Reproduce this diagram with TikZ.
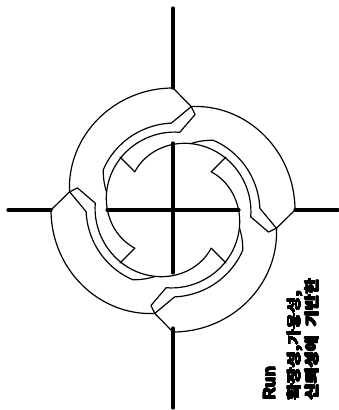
\documentclass[tikz,border=0pt]{standalone}
\usepackage{fontspec}
\usepackage{contour}
\contournumber{16}
\setmainfont{Liberation Sans}
\newfontfamily\kofont{Noto Sans CJK KR}
\begin{document}
\begin{tikzpicture}[x=1pt,y=1pt,line join=round,line cap=round]
\useasboundingbox (-173,-200) rectangle (166,210);
\tikzset{thinl/.style={line width=1.2pt},
  axisl/.style={line width=3.2pt},
  lbl/.style={anchor=west,inner sep=0pt,outer sep=0pt}}
% axes
\coordinate (c) at (0,0);
\coordinate (at) at (0,122); \coordinate (ate) at (0,202);
\coordinate (ar) at (122,0); \coordinate (are) at (165,0);
\coordinate (ab) at (0,-118); \coordinate (abe) at (0,-198);
\coordinate (al) at (-122,0); \coordinate (ale) at (-165,0);
\draw[axisl] (at) -- (ate);
\draw[axisl] (ar) -- (are);
\draw[axisl] (ab) -- (abe);
\draw[axisl] (al) -- (ale);
\draw[axisl] (-66,0) -- (66,0);
\draw[axisl] (0,-63) -- (0,67);
\foreach \k in {0,1,2,3}{
 \begin{scope}[rotate=-90*\k]
  % junction chevron and strip
  \draw[thinl] (90:122) -- (80:105) -- (77:98) -- (85:78)
     -- plot[domain=85:225,samples=50,variable=\a] (\a:{78-24*((\a-85)/140)^1.7});
  \draw[thinl] (225:54) -- (225:75);
  \draw[thinl] (80:105) -- (91:87)
     -- plot[domain=91:150,samples=30,variable=\a] (\a:{87-24*((\a-85)/140)^1.7})
     -- plot[domain=150:165,samples=10,variable=\a] (\a:{78-24*((\a-85)/140)^1.7+9*(165-\a)/15});
  % outer spiral
  \draw[thinl] plot[domain=0:1,samples=50,variable=\t] ({80-80*\t}:{105+17*(1-(1-\t)^2)});
 \end{scope}}
% labels
\begin{scope}[shift={(96.5,-190)},rotate=90,transform shape]
\node[lbl,font=\bfseries\fontsize{17}{17}\selectfont] (run) at (0,0) {\contourlength{0.5pt}\contour{black}{Run}};
\end{scope}
\begin{scope}[shift={(122,-190)},rotate=90,transform shape]
\node[lbl,font=\kofont\bfseries\fontsize{17.5}{17.5}\selectfont] (l1) at (0,0) {\scalebox{1}[0.82]{\contourlength{0.3pt}\contour{black}{확장성,가용성,}}};
\end{scope}
\begin{scope}[shift={(139,-190)},rotate=90,transform shape]
\node[lbl,font=\kofont\bfseries\fontsize{17.5}{17.5}\selectfont] (l2) at (0,0) {\scalebox{1}[0.82]{\contourlength{0.3pt}\contour{black}{신뢰성에\hspace{0.5em}기반한}}};
\end{scope}
\end{tikzpicture}
\end{document}
